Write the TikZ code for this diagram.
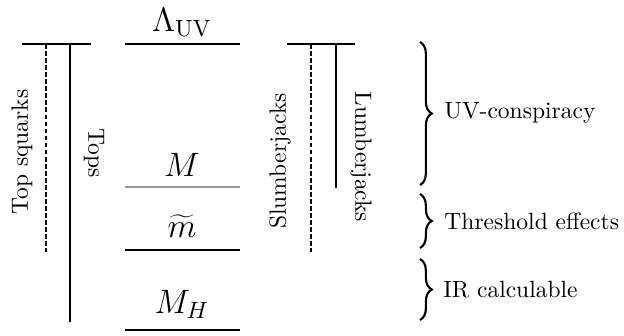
\documentclass[tikz,border=0pt]{standalone}
\usetikzlibrary{decorations.pathreplacing}
\begin{document}
\begin{tikzpicture}[x=0.4255pt,y=-0.4255pt,
  bar/.style={line width=0.9pt},
  greybar/.style={line width=0.9pt,draw=black!40},
  solidline/.style={line width=0.8pt},
  dashline/.style={line width=0.7pt,dash pattern=on 2pt off 1pt},
  lvl/.style={font=\Large,inner sep=0pt},
  brc/.style={line width=0.9pt,decorate,decoration={brace,amplitude=5pt}},
  brlabel/.style={anchor=west,inner sep=0pt}]
\useasboundingbox (0,0) rectangle (624,335);
% left group
\coordinate (lt1) at (22,44); \coordinate (lt2) at (91,44);
\coordinate (sqt) at (46,44); \coordinate (sqb) at (46,252);
\coordinate (tpt) at (70,44); \coordinate (tpb) at (70,322);
\draw[bar] (lt1) -- (lt2);
\draw[dashline] (sqt) -- (sqb);
\draw[solidline] (tpt) -- (tpb);
\node[rotate=90] (sqlab) at (22,152) {Top squarks};
\node[rotate=-90] (tplab) at (94,153) {Tops};
% central levels
\coordinate (uv1) at (125,44); \coordinate (uv2) at (240,44);
\coordinate (m1) at (125,187); \coordinate (m2) at (240,187);
\coordinate (mt1) at (125,250); \coordinate (mt2) at (240,250);
\coordinate (mh1) at (125,330); \coordinate (mh2) at (240,330);
\draw[bar] (uv1) -- (uv2);
\draw[greybar] (m1) -- (m2);
\draw[bar] (mt1) -- (mt2);
\draw[bar] (mh1) -- (mh2);
\node[lvl] (uvlab) at (182,22) {$\Lambda_{\mathrm{UV}}$};
\node[lvl] (mlab) at (182,165) {$M$};
\node[lvl] (mtlab) at (182,226) {$\widetilde{m}$};
\node[lvl] (mhlab) at (182,304) {$M_H$};
% right group
\coordinate (rt1) at (287,44); \coordinate (rt2) at (355,44);
\coordinate (slt) at (311,44); \coordinate (slb) at (311,252);
\coordinate (lmt) at (336,44); \coordinate (lmb) at (336,188);
\draw[bar] (rt1) -- (rt2);
\draw[dashline] (slt) -- (slb);
\draw[solidline] (lmt) -- (lmb);
\node[rotate=90] (sllab) at (280,161) {Slumberjacks};
\node[rotate=-90] (lmlab) at (361,157) {Lumberjacks};
% braces
\coordinate (b1t) at (420,42); \coordinate (b1b) at (420,185);
\coordinate (b2t) at (420,194); \coordinate (b2b) at (420,248);
\coordinate (b3t) at (420,259); \coordinate (b3b) at (420,320);
\draw[brc] (b1t) -- (b1b);
\draw[brc] (b2t) -- (b2b);
\draw[brc] (b3t) -- (b3b);
\node[brlabel] (uvc) at (444,113) {UV-conspiracy};
\node[brlabel] (thr) at (444,221) {Threshold effects};
\node[brlabel] (irc) at (443,290) {IR calculable};
\end{tikzpicture}
\end{document}
